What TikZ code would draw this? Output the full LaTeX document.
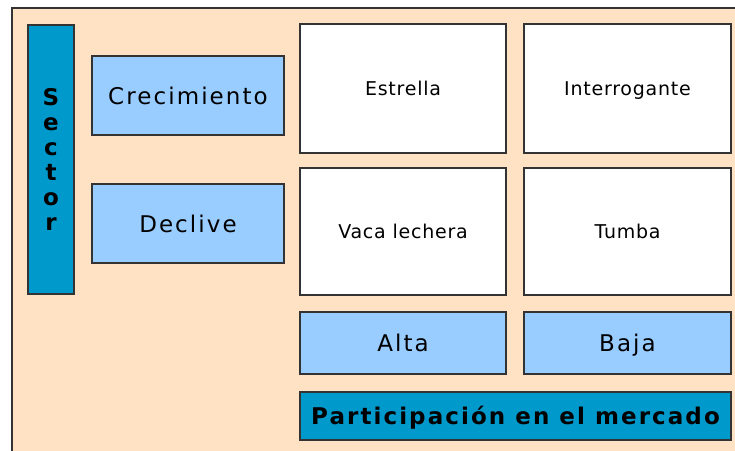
\documentclass[tikz,border=0pt]{standalone}
\usepackage{fontspec}
\newfontfamily\cellfont[LetterSpace=4]{DejaVu Sans}
\newfontfamily\boxfont[LetterSpace=9]{DejaVu Sans}
\newfontfamily\titlefont[LetterSpace=9]{DejaVu Sans}
\definecolor{peach}{HTML}{FFE2C4}
\definecolor{lightblue}{HTML}{99CCFF}
\definecolor{darkblue}{HTML}{0099CC}
\definecolor{edge}{HTML}{333333}

\begin{document}
\begin{tikzpicture}[x=1pt, y=-1pt,
    box/.style={draw=edge, line width=1.5pt, inner sep=0pt, outer sep=0pt},
    cell/.style={box, fill=white, minimum width=206pt, text height=14pt, text depth=0pt,
                 font=\cellfont\fontsize{19}{22}\selectfont},
    axis/.style={box, fill=lightblue, text height=17pt, text depth=0pt,
                 font=\boxfont\fontsize{23}{26}\selectfont},
    title/.style={box, fill=darkblue, font=\titlefont\bfseries\fontsize{23}{25}\selectfont}]
      \useasboundingbox (0,0) rectangle (735,450);
      \draw[draw=edge, line width=2pt, fill=peach] (12,8) rectangle (760,470);

      % sector axis
      \node[title, minimum width=46pt, minimum height=269pt, align=center] (sector) at (51,159.5)
            {S\\e\\c\\t\\o\\r};
      \node[axis, minimum width=192pt, minimum height=79pt] (crec) at (188,95.5) {Crecimiento};
      \node[axis, minimum width=192pt, minimum height=79pt] (decl) at (188,223.5) {Declive};

      % matrix
      \node[cell, minimum height=129pt] (estrella) at (403,88.5) {Estrella};
      \node[cell, minimum height=129pt, minimum width=207pt] (interr) at (627.5,88.5) {Interrogante};
      \node[cell, minimum height=127pt] (vaca) at (403,231.5) {Vaca lechera};
      \node[cell, minimum height=127pt, minimum width=207pt] (tumba) at (627.5,231.5) {Tumba};

      % market share axis
      \node[axis, minimum width=206pt, minimum height=62pt] (alta) at (403,343) {Alta};
      \node[axis, minimum width=207pt, minimum height=62pt] (baja) at (627.5,343) {Baja};
      \node[title, text height=17pt, text depth=0pt, minimum width=431pt, minimum height=48pt] (part)
            at (515.5,416) {Participación en el mercado};
\end{tikzpicture}
\end{document}
